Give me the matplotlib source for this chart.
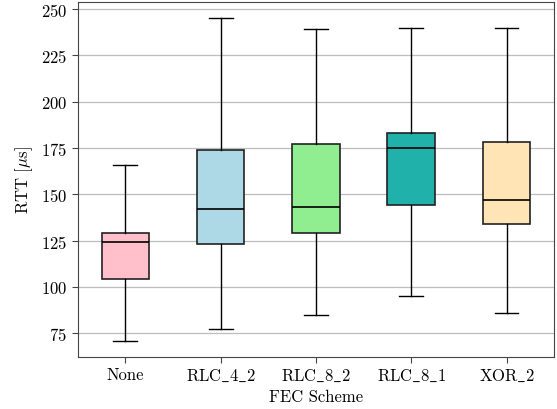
import matplotlib
matplotlib.use("Agg")
import matplotlib.pyplot as plt

plt.rcParams['font.family'] = ['cmr10', 'DejaVu Serif']
plt.rcParams['mathtext.fontset'] = 'cm'
plt.rcParams['axes.formatter.use_mathtext'] = True
plt.rcParams['font.size'] = 12

categories = ["None", "RLC_4_2", "RLC_8_2", "RLC_8_1", "XOR_2"]
whislo = [71, 77, 85, 95, 86]
q1 = [104, 123, 129, 144, 134]
med = [124, 142, 143, 175, 147]
q3 = [129, 174, 177, 183, 178]
whishi = [166, 245, 239, 240, 240]
colors = ["pink", "lightblue", "lightgreen", "lightseagreen", "moccasin"]

labels = [c.replace('_', r'$\_$') for c in categories]
stats = [dict(label=c, whislo=a, q1=b, med=m, q3=d, whishi=e, fliers=[])
         for c, a, b, m, d, e in zip(labels, whislo, q1, med, q3, whishi)]

fig = plt.figure(figsize=(5.57, 4.1), dpi=100)
ax = fig.add_axes([0.1395, 0.1276, 0.8555, 0.8644])
bp = ax.bxp(stats, widths=0.5, patch_artist=True, showfliers=False,
            medianprops=dict(color='black', linewidth=1.2),
            boxprops=dict(edgecolor='#222222', linewidth=1.2),
            whiskerprops=dict(color='black', linewidth=1.0),
            capprops=dict(color='black', linewidth=1.0))
for patch, col in zip(bp['boxes'], colors):
    patch.set_facecolor(col)

ax.yaxis.grid(True, color='#bdbdbd', linewidth=0.9)
ax.set_axisbelow(True)
ax.set_ylabel(r'RTT [$\mu$s]')
ax.set_xlabel('FEC Scheme', labelpad=4)
for s in ax.spines.values():
    s.set_color('#444444')
ax.tick_params(axis='y', length=4, color='#444444')
ax.tick_params(axis='x', length=4, color='#444444')
fig.savefig("out.png", dpi=100)
